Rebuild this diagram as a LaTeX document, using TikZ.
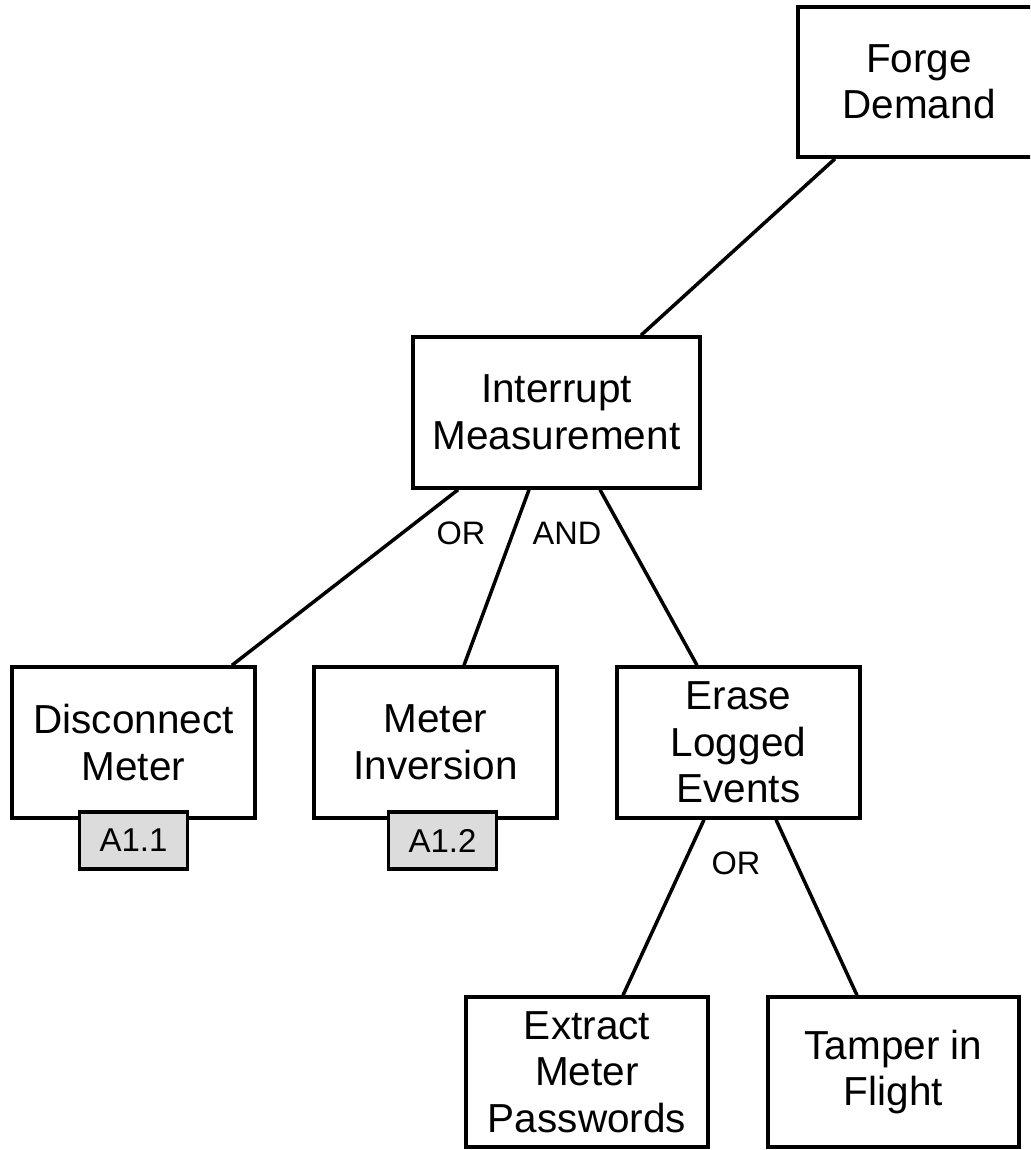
\documentclass[tikz,border=0pt]{standalone}
\usepackage{fontspec}
\setmainfont{Liberation Sans}
\begin{document}
\begin{tikzpicture}[x=1pt,y=-1pt,
  box/.style={draw=black, line width=3.5pt, fill=white, rectangle, inner sep=0pt,
    align=center, font=\fontsize{40.5}{46.5}\selectfont},
  tag/.style={draw=black, line width=3.5pt, fill=tagfill, rectangle, inner sep=0pt,
    minimum width=108pt, minimum height=57pt, font=\fontsize{33}{38}\selectfont},
  gate/.style={inner sep=0pt, font=\fontsize{32.5}{36}\selectfont},
  link/.style={draw=black, line width=3.5pt}]
\definecolor{tagfill}{HTML}{DCDCDC}
\useasboundingbox (0,0) rectangle (1030,1150);
\clip (0,0) rectangle (1030,1150);

% goal and sub-goals
\node[box, minimum width=242pt, minimum height=150pt] (forge) at (919,82) {Forge\\Demand};
\node[box, minimum width=287pt, minimum height=151pt] (interrupt) at (556.5,412.5) {Interrupt\\Measurement};
\node[box, minimum width=243pt, minimum height=151pt] (disconnect) at (133.5,742.5) {Disconnect\\Meter};
\node[box, minimum width=243pt, minimum height=151pt] (inversion) at (435.5,742.5) {Meter\\Inversion};
\node[box, minimum width=243pt, minimum height=151pt] (erase) at (738.5,742.5) {Erase\\Logged\\Events};
\node[box, minimum width=242pt, minimum height=150pt] (extract) at (587,1072) {Extract\\Meter\\Passwords};
\node[box, minimum width=251pt, minimum height=150pt] (tamper) at (893.5,1072) {Tamper in\\Flight};

% reference tags
\node[tag] (tagA) at (133.5,840.5) {A1.1};
\node[tag] (tagB) at (442.5,840.5) {A1.2};

% connectors
\draw[link] (835,0 |- forge.south) -- (641,0 |- interrupt.north);
\draw[link] (458,0 |- interrupt.south) -- (232,0 |- disconnect.north);
\draw[link] (529,0 |- interrupt.south) -- (464,0 |- inversion.north);
\draw[link] (600,0 |- interrupt.south) -- (697,0 |- erase.north);
\draw[link] (704,0 |- erase.south) -- (623,0 |- extract.north);
\draw[link] (776,0 |- erase.south) -- (857,0 |- tamper.north);

% gate labels
\node[gate] (gor1) at (461,533) {OR};
\node[gate] (gand) at (567,533) {AND};
\node[gate] (gor2) at (736,863) {OR};
\end{tikzpicture}
\end{document}
